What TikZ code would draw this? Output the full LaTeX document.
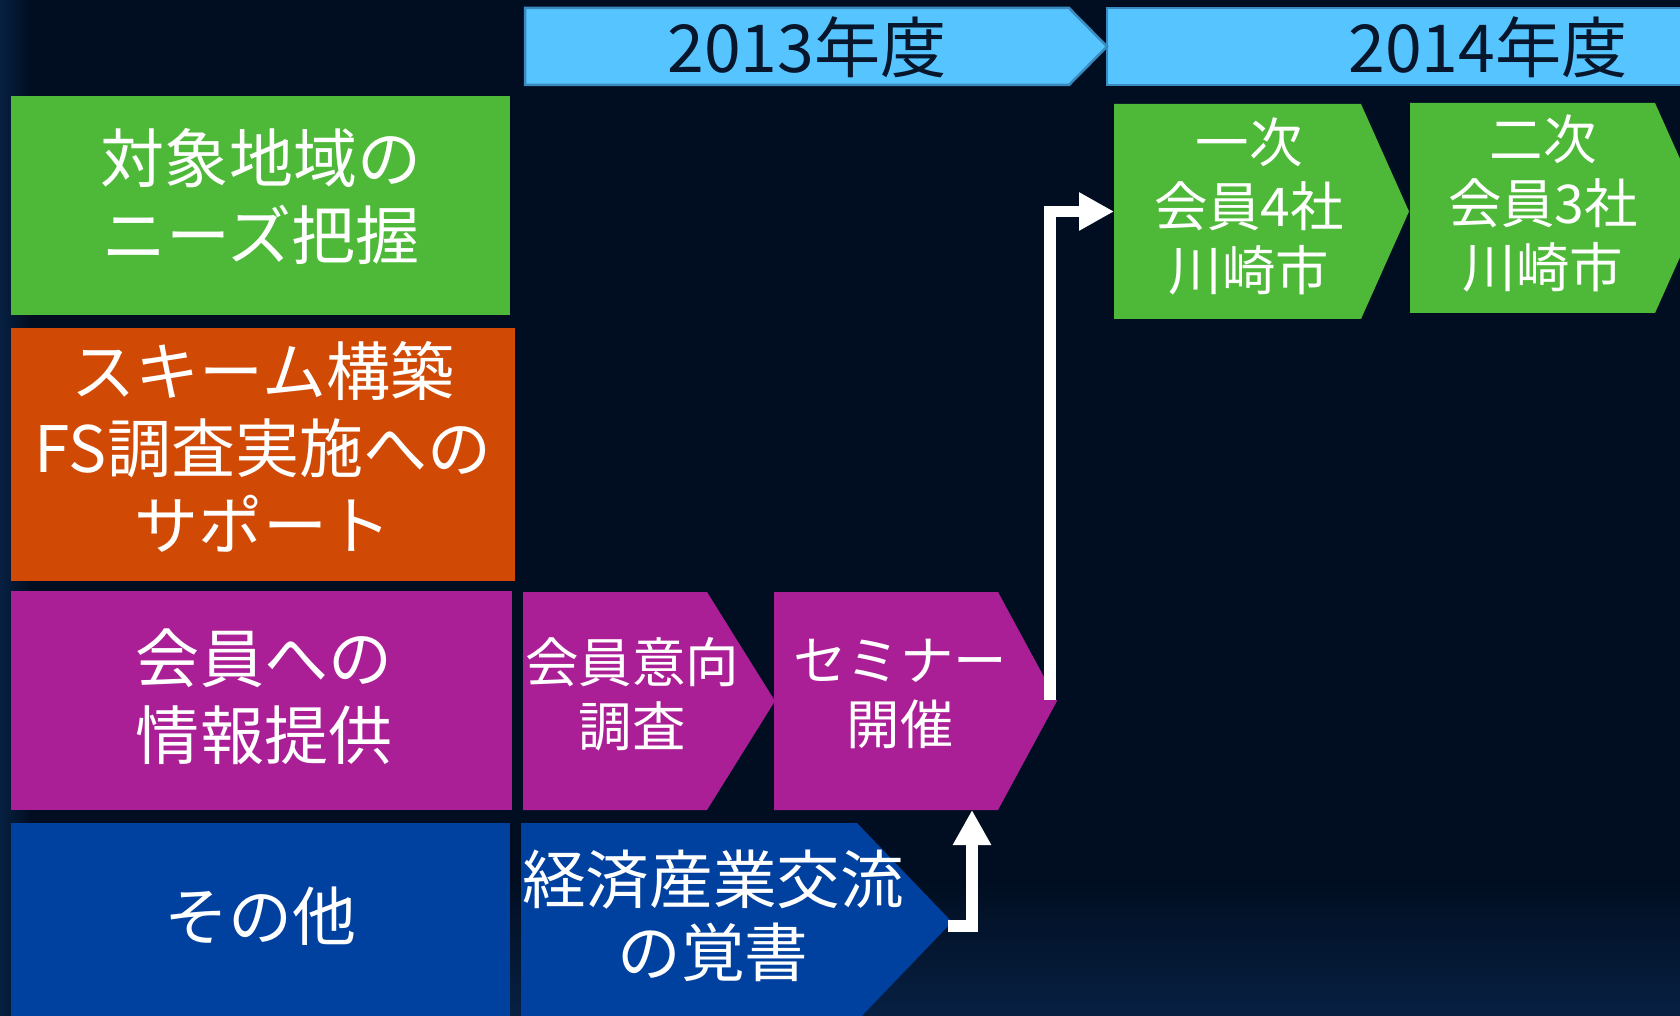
\documentclass[tikz,border=0pt]{standalone}
\usepackage{fontspec}
\setmainfont{Noto Sans CJK JP}
\usetikzlibrary{arrows.meta,calc}
\definecolor{bgcolor}{RGB}{1,14,33}
\definecolor{bgglow}{RGB}{7,32,66}
\definecolor{yearcolor}{RGB}{86,196,255}
\definecolor{yearedge}{RGB}{58,138,192}
\definecolor{yeartext}{RGB}{8,22,44}
\definecolor{needcolor}{RGB}{78,184,56}
\definecolor{schemecolor}{RGB}{208,74,6}
\definecolor{infocolor}{RGB}{170,30,150}
\definecolor{othercolor}{RGB}{0,64,158}
\tikzset{
  rowlabel/.style  = {text=white, align=center, inner sep=0pt,
                      font=\fontsize{18.2pt}{21.9pt}\selectfont},
  steplabel/.style = {text=white, align=center, inner sep=0pt,
                      font=\fontsize{15.2pt}{18.2pt}\selectfont},
  biglabel/.style  = {steplabel, font=\fontsize{18.1pt}{20.8pt}\selectfont},
  yearlabel/.style = {text=yeartext, inner sep=0pt,
                      font=\fontsize{18.8pt}{22pt}\selectfont},
  yearbar/.style   = {fill=yearcolor, draw=yearedge, line width=0.025cm},
  flow/.style      = {-{Triangle[length=0.35cm,width=0.36cm]},
                      line width=0.115cm, draw=white}
}

\begin{document}
\begin{tikzpicture}[x=0.01cm,y=-0.01cm]
\useasboundingbox (0,0) rectangle (1680,1016);
\clip (0,0) rectangle (1680,1016);

% --- background ---
\fill[bgcolor] (0,0) rectangle (1680,1016);
\shade[top color=bgcolor, bottom color=bgglow] (0,880) rectangle (1680,1016);
\shade[left color=bgglow, right color=bgcolor] (0,0) rectangle (30,1016);

% --- year banners ---
\draw[yearbar] (1107,8) rectangle (1880,85);
\draw[yearbar] (525,8) -- (1069,8) -- (1107,46.5) -- (1069,85) -- (525,85) -- cycle;
\node[yearlabel] (y2013) at (807,47) {2013年度};
\node[yearlabel] (y2014) at (1488,47) {2014年度};

% --- row headers (box, then label) ---
\foreach \name/\ya/\xb/\yb/\tx/\ty/\col/\txt in {
    need/96/510/315/261/197/needcolor/{対象地域の\\ニーズ把握},
    scheme/328/515/581/263/447/schemecolor/{スキーム構築\\FS調査実施への\\サポート},
    info/591/512/810/264/697/infocolor/{会員への\\情報提供},
    other/823/510/1040/260/916/othercolor/{その他}}{
  \fill[\col] (11,\ya) rectangle (\xb,\yb);
  \node[rowlabel] (\name) at (\tx,\ty) {\txt};
}

% --- step chevrons ---
\foreach \name/\xa/\ya/\xb/\yb/\xt/\col in {
    ikou/523/592/707/810/775/infocolor,
    semin/774/592/998/810/1057/infocolor,
    keizai/521/823/857/1021/952/othercolor,
    ichi/1114/104/1361/319/1409/needcolor,
    ni/1410/103/1655/313/1702/needcolor}{
  \fill[\col] (\xa,\ya) -- (\xb,\ya) -- (\xt,{(\ya+\yb)/2})
              -- (\xb,\yb) -- (\xa,\yb) -- cycle;
  \coordinate (\name-tip) at (\xt,{(\ya+\yb)/2});
  \coordinate (\name-in) at (\xa,{(\ya+\yb)/2});
}

\node[steplabel] (ikou-txt) at (632,694) {会員意向\\調査};
\node[steplabel] (semin-txt) at (900,694) {セミナー\\開催};
\node[biglabel] (keizai-txt) at (713,916) {経済産業交流\\の覚書};
\node[steplabel] (ichi-txt) at (1249,206) {一次\\会員4社\\川崎市};
\node[steplabel] (ni-txt) at (1543,203) {二次\\会員3社\\川崎市};

% --- connections ---
\coordinate (semin-out) at (1050,700);
\coordinate (keizai-out) at (948,926);
\coordinate (semin-bot) at (972,810);
\draw[flow] (semin-out) |- (ichi-in);
\draw[flow] (keizai-out) -| (semin-bot);

\end{tikzpicture}
\end{document}
